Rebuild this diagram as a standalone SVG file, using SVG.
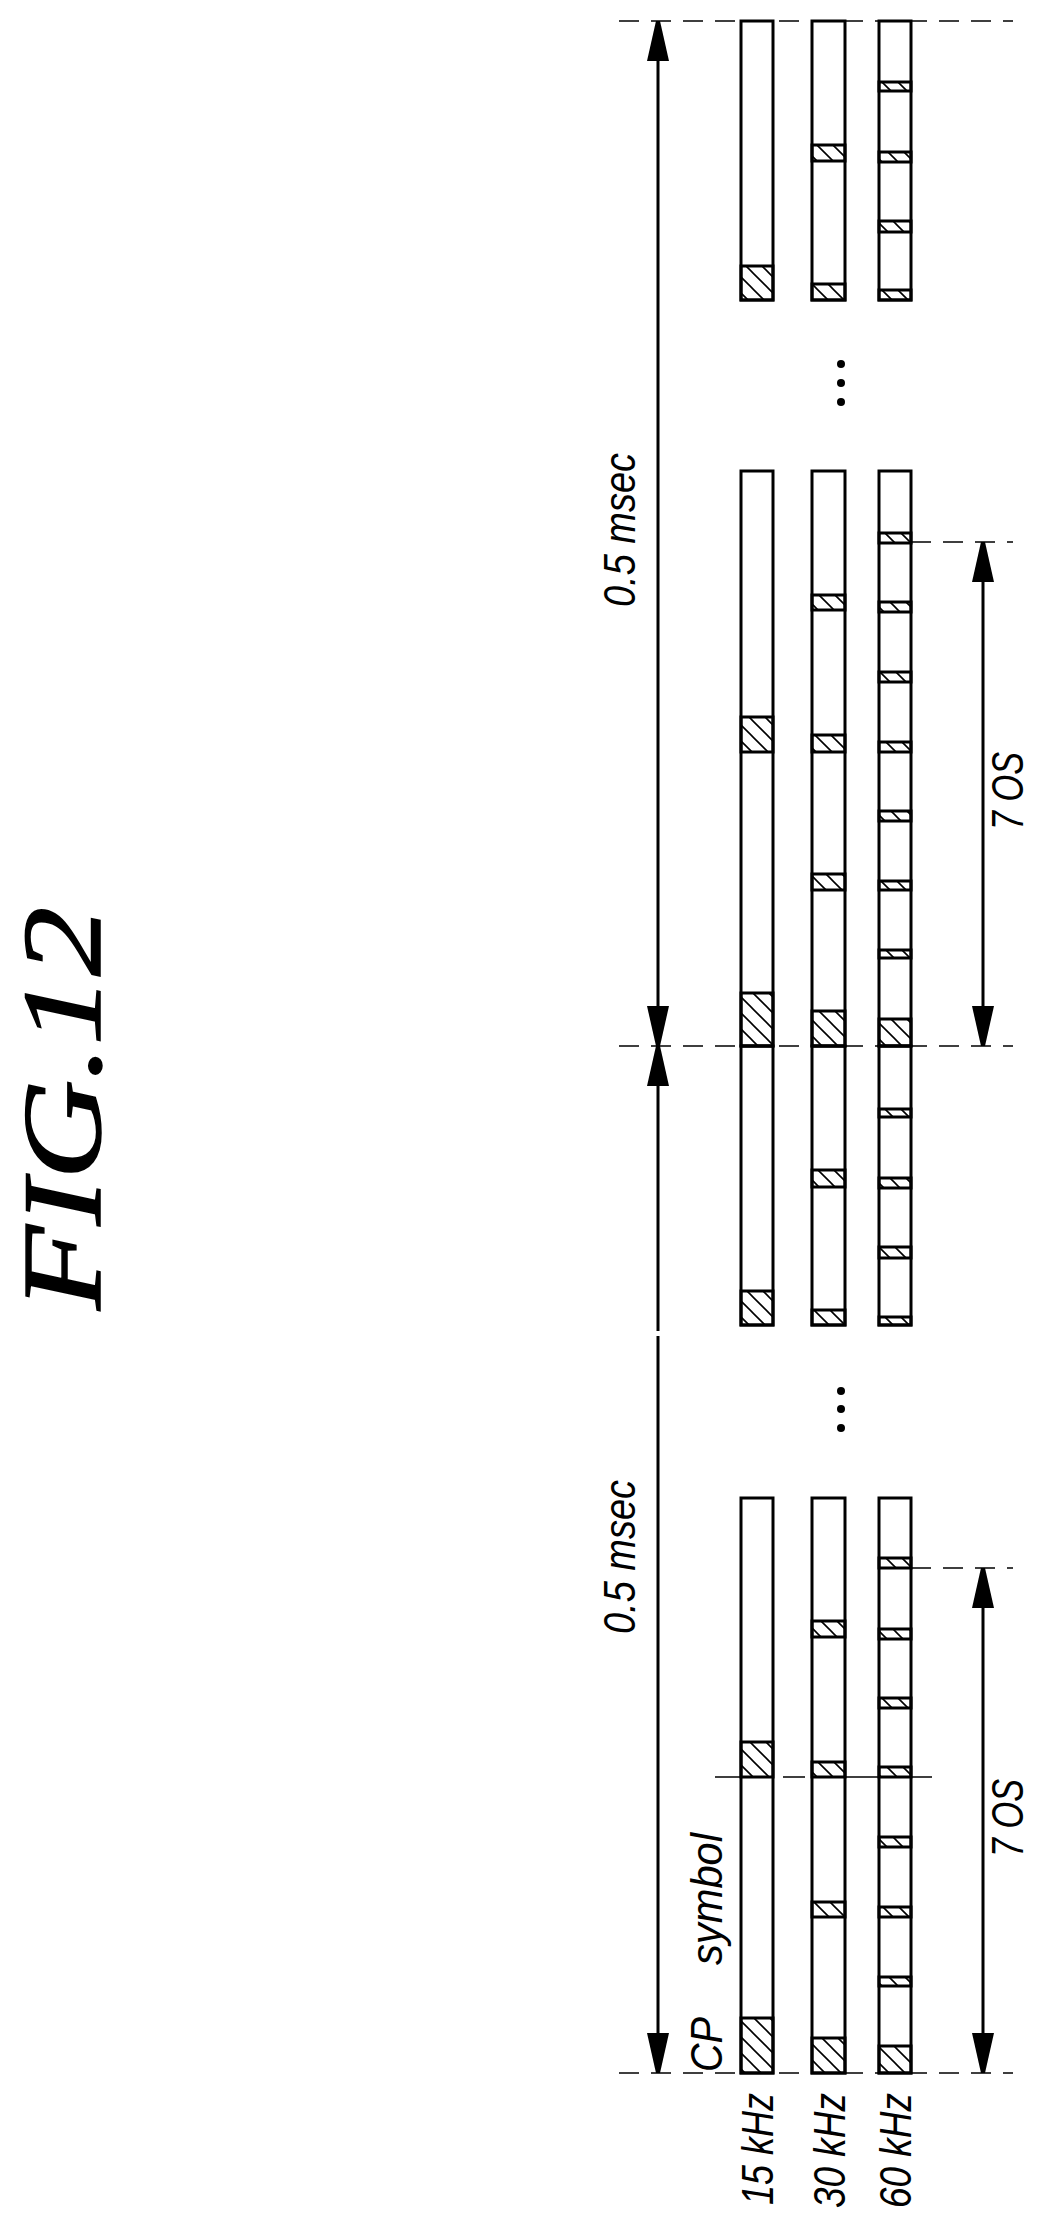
<svg xmlns="http://www.w3.org/2000/svg" width="1042" height="2231" viewBox="0 0 1042 2231">
<style>
.col{fill:none;stroke:#000;stroke-width:3}
.h{fill:url(#hatch);stroke:#000;stroke-width:3}
.dash{stroke:#000;stroke-width:1.6;stroke-dasharray:20 12;fill:none}
.arr{stroke:#000;stroke-width:3;fill:none;marker-start:url(#ah);marker-end:url(#ah)}
.t{font-family:"Liberation Sans",Arial,sans-serif;font-style:italic;font-size:44px;fill:#000}
.title{font-family:"Liberation Serif","Times New Roman",serif;font-style:italic;font-size:112px;fill:#000;stroke:#000;stroke-width:1.5}
</style>
<defs>
<pattern id="hatch" patternUnits="userSpaceOnUse" width="16" height="16">
<path d="M-4,-4 L20,20 M-4,12 L4,20 M12,-4 L20,4" stroke="#000" stroke-width="1.6"/>
</pattern>
<marker id="ah" markerUnits="userSpaceOnUse" markerWidth="40" markerHeight="22" refX="40" refY="11" orient="auto-start-reverse">
<path d="M0,0 L40,9 L40,13 L0,22 z" fill="#000"/>
</marker>
</defs>
<g id="title"><text class="title" transform="translate(100,1310) rotate(-90)" textLength="403" lengthAdjust="spacingAndGlyphs">FIG.12</text></g>
<g id="connectors">
<line class="dash" x1="619" y1="21" x2="1013" y2="21"/>
<line class="dash" x1="619" y1="1046" x2="1013" y2="1046"/>
<line class="dash" x1="619" y1="2073" x2="1013" y2="2073"/>
<line class="dash" x1="911" y1="542" x2="1013" y2="542"/>
<line class="dash" x1="911" y1="1568" x2="1013" y2="1568"/>
<line stroke="#000" stroke-width="1.6" stroke-dasharray="58 10 22 10 75 10 60" x1="715" y1="1777" x2="932" y2="1777"/>
<line class="arr" x1="658" y1="21" x2="658" y2="1046"/>
<line class="arr" x1="658" y1="1046" x2="658" y2="2073"/>
<line stroke="#fff" stroke-width="5" x1="658" y1="1331" x2="658" y2="1336"/>
<line class="arr" x1="983" y1="542" x2="983" y2="1046"/>
<line class="arr" x1="983" y1="1568" x2="983" y2="2073"/>
</g>
<g id="seg1">
<rect class="col" x="741" y="21" width="32" height="279"/>
<rect class="col" x="812" y="21" width="33" height="279"/>
<rect class="col" x="879" y="21" width="32" height="279"/>
<rect class="h" x="741" y="266" width="32" height="34"/>
<rect class="h" x="812" y="145" width="33" height="16"/><rect class="h" x="812" y="284" width="33" height="16"/>
<rect class="h" x="879" y="82" width="32" height="9"/><rect class="h" x="879" y="152" width="32" height="10"/><rect class="h" x="879" y="221" width="32" height="11"/><rect class="h" x="879" y="290" width="32" height="10"/>
</g>
<g id="dots1"><circle cx="841" cy="364" r="4"/><circle cx="841" cy="383" r="4"/><circle cx="841" cy="402" r="4"/></g>
<g id="seg2">
<rect class="col" x="741" y="471" width="32" height="575"/>
<rect class="col" x="812" y="471" width="33" height="575"/>
<rect class="col" x="879" y="471" width="32" height="575"/>
<rect class="h" x="741" y="717" width="32" height="35"/><rect class="h" x="741" y="993" width="32" height="53"/>
<rect class="h" x="812" y="595" width="33" height="15"/><rect class="h" x="812" y="735" width="33" height="17"/><rect class="h" x="812" y="874" width="33" height="16"/><rect class="h" x="812" y="1011" width="33" height="35"/>
<rect class="h" x="879" y="533" width="32" height="10"/><rect class="h" x="879" y="602" width="32" height="10"/><rect class="h" x="879" y="672" width="32" height="10"/><rect class="h" x="879" y="742" width="32" height="10"/><rect class="h" x="879" y="811" width="32" height="10"/><rect class="h" x="879" y="881" width="32" height="9"/><rect class="h" x="879" y="950" width="32" height="8"/><rect class="h" x="879" y="1019" width="32" height="27"/>
</g>
<g id="seg3">
<rect class="col" x="741" y="1046" width="32" height="279"/>
<rect class="col" x="812" y="1046" width="33" height="279"/>
<rect class="col" x="879" y="1046" width="32" height="279"/>
<rect class="h" x="741" y="1291" width="32" height="34"/>
<rect class="h" x="812" y="1170" width="33" height="17"/><rect class="h" x="812" y="1310" width="33" height="15"/>
<rect class="h" x="879" y="1109" width="32" height="8"/><rect class="h" x="879" y="1178" width="32" height="10"/><rect class="h" x="879" y="1247" width="32" height="11"/><rect class="h" x="879" y="1317" width="32" height="8"/>
</g>
<g id="dots2"><circle cx="841" cy="1391" r="4"/><circle cx="841" cy="1409" r="4"/><circle cx="841" cy="1428" r="4"/></g>
<g id="seg4">
<rect class="col" x="741" y="1498" width="32" height="575"/>
<rect class="col" x="812" y="1498" width="33" height="575"/>
<rect class="col" x="879" y="1498" width="32" height="575"/>
<rect class="h" x="741" y="1742" width="32" height="35"/><rect class="h" x="741" y="2018" width="32" height="55"/>
<rect class="h" x="812" y="1621" width="33" height="16"/><rect class="h" x="812" y="1762" width="33" height="15"/><rect class="h" x="812" y="1902" width="33" height="15"/><rect class="h" x="812" y="2038" width="33" height="35"/>
<rect class="h" x="879" y="1558" width="32" height="10"/><rect class="h" x="879" y="1629" width="32" height="10"/><rect class="h" x="879" y="1698" width="32" height="10"/><rect class="h" x="879" y="1767" width="32" height="10"/><rect class="h" x="879" y="1837" width="32" height="10"/><rect class="h" x="879" y="1907" width="32" height="10"/><rect class="h" x="879" y="1977" width="32" height="9"/><rect class="h" x="879" y="2046" width="32" height="27"/>
</g>
<g id="labels">
<text class="t" transform="translate(635,607) rotate(-90)" textLength="154" lengthAdjust="spacingAndGlyphs">0.5 msec</text>
<text class="t" transform="translate(635,1634) rotate(-90)" textLength="154" lengthAdjust="spacingAndGlyphs">0.5 msec</text>
<text class="t" transform="translate(1023,830) rotate(-90)" textLength="78" lengthAdjust="spacingAndGlyphs">7 OS</text>
<text class="t" transform="translate(1023,1857) rotate(-90)" textLength="78" lengthAdjust="spacingAndGlyphs">7 OS</text>
<text class="t" transform="translate(722,1965) rotate(-90)" textLength="132" lengthAdjust="spacingAndGlyphs">symbol</text>
<text class="t" transform="translate(722,2072) rotate(-90)" textLength="55" lengthAdjust="spacingAndGlyphs">CP</text>
<text class="t" transform="translate(773,2205) rotate(-90)" textLength="112" lengthAdjust="spacingAndGlyphs">15 kHz</text>
<text class="t" transform="translate(845,2208) rotate(-90)" textLength="115" lengthAdjust="spacingAndGlyphs">30 kHz</text>
<text class="t" transform="translate(911,2208) rotate(-90)" textLength="115" lengthAdjust="spacingAndGlyphs">60 kHz</text>
</g>
</svg>
